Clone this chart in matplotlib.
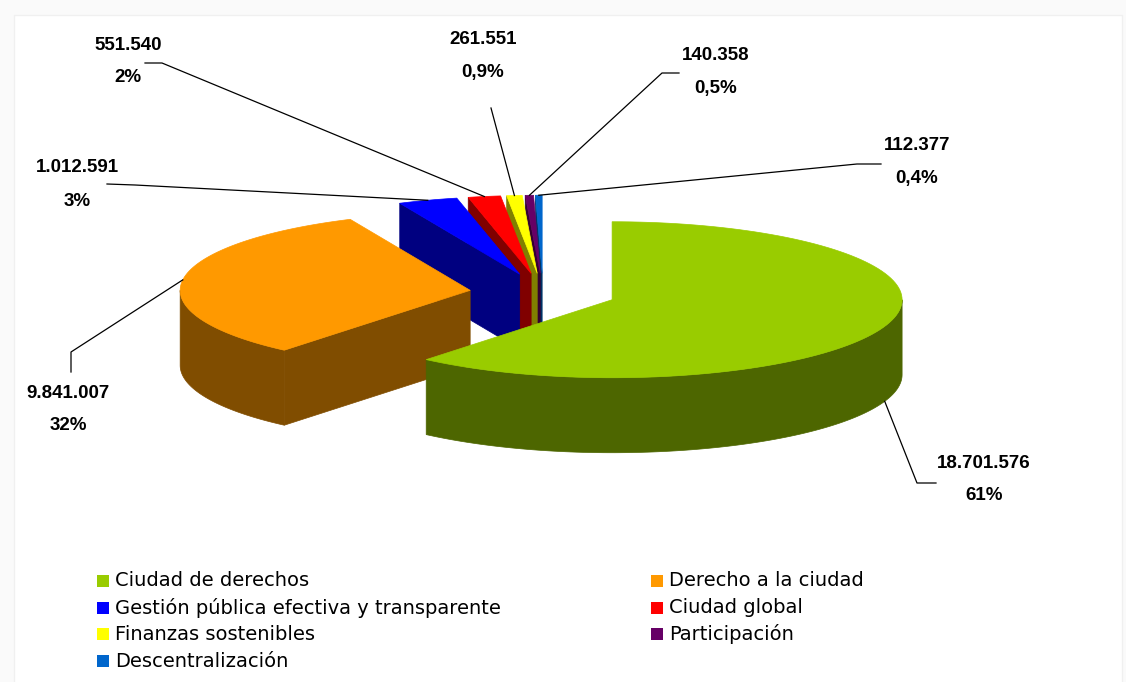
import numpy as np
import matplotlib
matplotlib.use("Agg")
import matplotlib.pyplot as plt
from matplotlib.patches import Polygon, Rectangle
from matplotlib.colors import to_rgb

# data
categories = ["Ciudad de derechos", "Derecho a la ciudad",
              "Gestión pública efectiva y transparente", "Ciudad global",
              "Finanzas sostenibles", "Participación", "Descentralización"]
values = [18701576, 9841007, 1012591, 551540, 261551, 140358, 112377]
colors = ["#99CC00", "#FF9900", "#0000FF", "#FF0000", "#FFFF00", "#660066", "#0066CC"]

# label layout (pixel coords): text centre, leader knee, leader end
label_xy = [(984, 463), (68, 393), (77, 168), (128, 45), (483, 40), (716, 56), (917, 146)]
knee = [(917, 483), (71, 352), (135, 185), (162, 63), (491, 108), (662, 73), (857, 164)]
stub = [(936, 483), (71, 372), (107, 184), (145, 63), None, (679, 73), (881, 164)]

# pie geometry
CX, CY = 543, 293
RX, RY = 290, 78
DEPTH = 75
EXP = 73.5

total = sum(values)

fig = plt.figure(figsize=(11.26, 6.82), dpi=100, facecolor="#fafafa")
ax = fig.add_axes([0, 0, 1, 1])
ax.set_xlim(0, 1126)
ax.set_ylim(682, 0)
ax.axis("off")
ax.add_patch(Rectangle((14, 15), 1108, 680, facecolor="white", edgecolor="#f0f0f0", lw=1, zorder=0))


def rim(cx, cy, a0, a1, n=120):
    t = np.radians(np.linspace(a0, a1, n))
    return np.column_stack([cx + RX * np.cos(t), cy - RY * np.sin(t)])


def dark(c):
    return tuple(np.array(to_rgb(c)) * 0.5)


slices = []
start = 90.0
for i, v in enumerate(values):
    end = start - 360.0 * v / total
    slices.append((i, start, end))
    start = end

# back slices first
order = sorted(slices, key=lambda s: -np.sin(np.radians((s[1] + s[2]) / 2)))

for z, (i, t0, t1) in enumerate(order):
    mid = np.radians((t0 + t1) / 2)
    px = CX + EXP * np.cos(mid)
    py = CY - EXP * np.sin(mid) * RY / RX
    apex = np.array([px, py])
    top_c = colors[i]
    side_c = dark(colors[i])
    zb = 2 + z * 3
    # radial faces
    for t, test in ((t0, np.cos(np.radians(t0)) < -1e-6), (t1, np.cos(np.radians(t1)) > 1e-6)):
        if test:
            o = rim(px, py, t, t, 1)[0]
            quad = [apex, o, o + [0, DEPTH], apex + [0, DEPTH]]
            ax.add_patch(Polygon(quad, closed=True, facecolor=side_c, edgecolor=side_c, lw=0.5, zorder=zb))
    # outer wall on the front half
    for k in range(-2, 2):
        lo = max(t1, 180 + 360 * k)
        hi = min(t0, 360 + 360 * k)
        if lo < hi:
            pts = rim(px, py, hi, lo)
            wall = np.vstack([pts, (pts + [0, DEPTH])[::-1]])
            ax.add_patch(Polygon(wall, closed=True, facecolor=side_c, edgecolor=side_c, lw=0.5, zorder=zb + 1))
    # top face
    topf = np.vstack([apex, rim(px, py, t0, t1)])
    ax.add_patch(Polygon(topf, closed=True, facecolor=top_c, edgecolor=top_c, lw=0.5, zorder=zb + 2))

    # leader line and label
    anc = rim(px, py, np.degrees(mid), np.degrees(mid), 1)[0]
    if np.sin(mid) < 0:
        anc = anc + [0, DEPTH]
    xs = [anc[0], knee[i][0]]
    ys = [anc[1], knee[i][1]]
    if stub[i] is not None:
        xs.append(stub[i][0])
        ys.append(stub[i][1])
    ax.plot(xs, ys, color="black", lw=0.9, zorder=40)

    pct = values[i] / total * 100
    ptxt = f"{pct:.0f}%" if pct >= 1.5 else f"{pct:.1f}%".replace(".", ",")
    vtxt = f"{values[i]:,}".replace(",", ".")
    lx, ly = label_xy[i]
    ax.text(lx, ly, vtxt, ha="center", va="center", fontsize=13.5, fontweight="bold",
            family="Liberation Sans", zorder=50)
    ax.text(lx, ly + 33, ptxt, ha="center", va="center", fontsize=13.5, fontweight="bold",
            family="Liberation Sans", zorder=50)

# legend, two columns filled row by row
for i, cat in enumerate(categories):
    row, col = i // 2, i % 2
    x0 = [97, 651][col]
    y0 = 581 + row * 26.7
    ax.add_patch(Rectangle((x0, y0 - 6), 12, 12, facecolor=colors[i], edgecolor="none", zorder=50))
    ax.text(x0 + 18, y0, cat, ha="left", va="center", fontsize=14, family="DejaVu Sans", zorder=50)

fig.savefig("out.png", dpi=100, facecolor=fig.get_facecolor())
